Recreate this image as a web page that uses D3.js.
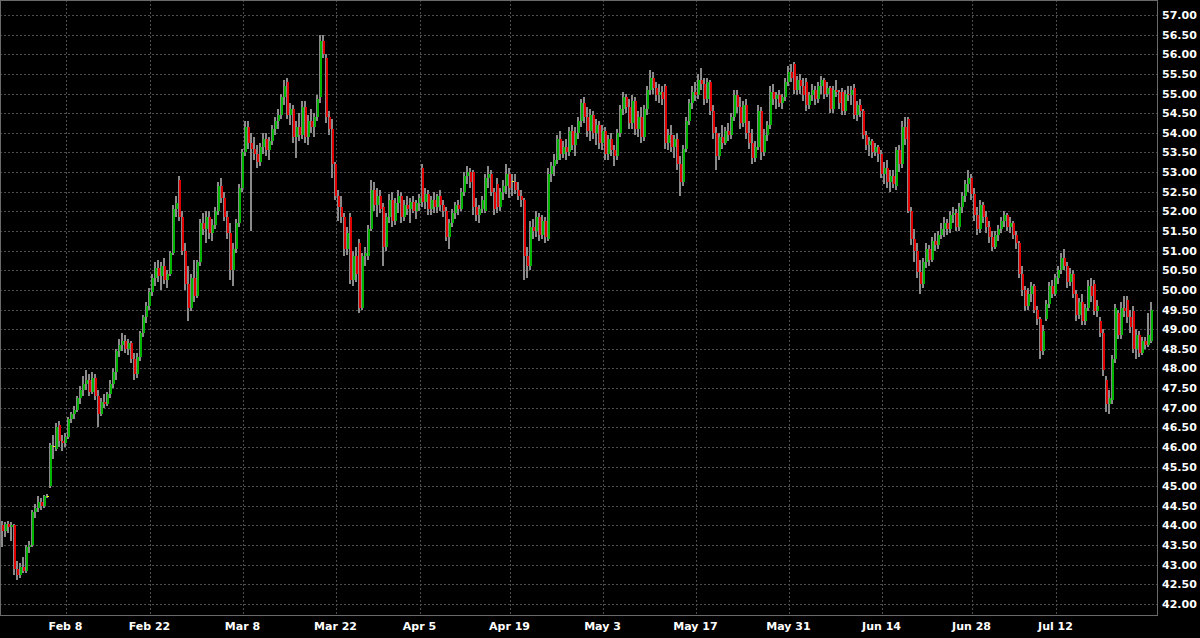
<!DOCTYPE html>
<html>
<head>
<meta charset="utf-8">
<script src="https://cdn.jsdelivr.net/npm/d3@7"></script>
<style>
html, body { margin: 0; background: #000; }
svg { display: block; }
.axis text { fill: #fff; font-family: "DejaVu Sans", Verdana, sans-serif; font-size: 11px; font-weight: bold; }
</style>
</head>
<body>
<svg id="chart" width="1200" height="638"></svg>
<script>
// bar values, 3 bars per trading day
const opens = [
    44.00,43.85,44.05,43.95,44.00,42.90,42.75,42.95,42.85,43.45,
    43.50,44.35,44.45,44.60,44.50,44.75,45.00,46.00,45.95,46.55,
    46.15,46.10,46.25,46.70,46.85,46.95,47.25,47.45,47.60,47.70,
    47.40,47.75,47.30,46.85,47.15,47.10,47.35,47.60,47.90,48.45,
    48.60,48.70,48.50,48.65,48.25,47.85,48.30,48.90,49.30,49.60,
    49.95,50.30,50.55,50.35,50.60,50.25,50.40,50.95,52.05,52.80,
    51.85,51.00,50.15,49.55,50.30,49.85,50.70,51.70,51.55,51.85,
    51.45,51.65,52.00,52.65,52.35,51.85,51.45,50.50,51.05,51.70,
    52.60,53.50,54.15,53.75,53.60,53.45,53.25,53.65,53.85,53.55,
    53.80,54.10,54.30,54.45,54.90,55.30,54.45,54.60,53.90,54.15,
    53.95,54.65,53.90,54.30,54.15,54.40,54.90,56.35,55.90,54.40,
    54.10,53.20,52.40,52.10,51.85,51.05,51.85,50.25,50.85,51.20,
    49.55,50.85,50.85,51.55,52.55,52.15,52.40,52.10,51.10,51.85,
    52.30,51.75,52.20,52.40,51.85,52.15,52.05,52.25,52.00,52.20,
    53.10,52.25,52.45,52.05,52.30,52.10,52.40,52.15,52.00,51.35,
    51.70,51.95,52.15,52.05,52.50,52.90,53.00,53.00,52.10,51.90,
    52.05,52.00,52.85,52.95,52.50,52.70,52.10,52.50,52.65,52.95,
    52.75,52.75,52.55,52.40,52.30,50.85,50.60,51.60,51.50,51.85,
    51.40,51.75,51.30,52.95,53.15,53.30,53.85,53.45,53.65,53.50,
    54.05,53.70,54.00,54.30,54.75,54.40,54.05,54.45,54.00,54.20,
    53.75,54.05,53.45,53.85,53.55,53.40,54.00,54.60,54.90,54.65,
    54.25,54.80,54.10,54.40,53.90,54.60,55.10,55.40,55.15,54.95,
    55.05,55.20,53.75,53.95,53.65,53.85,53.20,52.75,53.60,54.30,
    54.75,55.05,54.95,55.35,55.25,54.85,55.30,54.55,54.00,53.40,
    53.90,53.75,54.05,53.95,54.40,54.95,54.65,54.25,54.70,54.00,
    53.75,53.35,53.65,54.55,53.50,53.95,54.20,55.05,54.85,54.95,
    54.75,54.90,55.30,55.55,55.75,55.10,55.35,55.20,55.30,54.70,
    54.95,55.10,54.85,55.20,55.35,55.00,55.15,54.60,55.10,55.05,
    55.05,54.55,55.00,54.95,55.15,54.45,54.70,54.55,53.95,53.70,
    53.80,53.50,53.65,53.45,52.95,53.10,52.75,52.90,52.65,53.55,
    53.20,54.15,54.35,52.00,51.30,51.00,50.45,50.15,50.70,51.05,
    50.75,51.25,51.15,51.40,51.55,51.70,51.55,51.90,51.95,51.60,
    52.10,52.40,52.70,52.85,52.45,51.90,51.55,52.15,51.85,51.60,
    51.35,51.10,51.40,51.55,51.75,51.90,51.60,51.70,51.40,51.20,
    50.40,50.00,49.60,49.90,50.10,49.50,49.25,48.45,49.25,49.65,
    50.10,49.90,50.30,50.50,50.80,50.60,50.20,50.40,49.90,49.35,
    49.70,49.20,49.55,50.10,50.15,49.45,49.20,48.90,47.70,47.10,
    47.20,48.25,49.40,48.85,49.55,49.75,49.30,49.45,48.50,48.85,
    48.40,48.70,48.60,48.70
];
const highs = [
    44.12,44.10,44.12,44.08,44.05,43.10,43.05,43.20,43.50,43.60,
    44.40,44.55,44.75,44.70,44.78,44.80,46.10,46.30,46.60,46.65,
    46.30,46.35,46.75,46.90,47.05,47.30,47.55,47.80,47.95,47.85,
    47.90,47.85,47.45,47.25,47.35,47.40,47.70,48.00,48.50,48.75,
    48.90,48.85,48.75,48.70,48.40,48.40,48.95,49.35,49.70,50.05,
    50.40,50.70,50.75,50.70,50.80,50.50,51.00,52.15,52.40,52.90,
    52.00,51.20,50.60,50.40,50.75,50.75,51.80,51.95,52.00,52.00,
    51.80,52.10,52.75,52.85,52.50,52.00,51.70,51.20,51.80,52.70,
    53.60,54.30,54.30,54.00,53.90,53.70,53.75,54.00,54.00,53.90,
    54.20,54.40,54.60,55.00,55.35,55.40,54.75,54.70,54.30,54.50,
    54.80,54.80,54.45,54.60,54.50,54.95,56.50,56.50,56.00,54.55,
    54.35,53.25,52.55,52.40,51.95,51.60,51.95,51.00,51.10,51.30,
    50.95,51.10,51.65,52.80,52.75,52.60,52.55,52.20,51.95,52.45,
    52.50,52.35,52.55,52.50,52.30,52.40,52.35,52.40,52.30,52.45,
    53.20,52.60,52.55,52.40,52.50,52.45,52.55,52.30,52.10,51.80,
    52.05,52.25,52.30,52.60,53.00,53.15,53.10,53.05,52.35,52.15,
    52.40,52.95,53.15,53.05,52.60,52.85,52.60,52.80,53.20,53.10,
    52.95,52.95,52.75,52.55,52.35,51.10,51.75,51.80,52.00,51.95,
    51.90,51.85,53.10,53.25,53.45,53.95,54.05,53.80,53.85,54.15,
    54.20,54.15,54.40,54.85,54.90,54.65,54.60,54.55,54.35,54.30,
    54.20,54.15,53.95,54.00,53.70,54.10,54.70,55.05,55.00,54.85,
    54.95,54.90,54.55,54.65,54.70,55.20,55.60,55.55,55.30,55.25,
    55.20,55.25,54.10,54.20,53.95,54.00,53.40,53.70,54.40,54.85,
    55.20,55.30,55.50,55.65,55.40,55.40,55.35,54.70,54.15,54.00,
    54.20,54.15,54.25,54.50,55.10,55.10,54.90,54.80,54.85,54.30,
    54.10,53.80,54.70,54.65,54.10,54.30,55.20,55.25,55.05,55.10,
    55.00,55.40,55.70,55.75,55.80,55.45,55.50,55.40,55.40,55.05,
    55.25,55.20,55.30,55.45,55.40,55.30,55.20,55.20,55.35,55.10,
    55.15,55.10,55.20,55.20,55.25,54.80,54.85,54.60,54.05,53.90,
    53.85,53.75,53.70,53.55,53.25,53.30,53.05,53.05,53.65,53.70,
    54.30,54.40,54.40,52.10,51.55,51.20,50.75,50.80,51.20,51.15,
    51.35,51.45,51.50,51.70,51.85,51.80,52.00,52.10,52.05,52.20,
    52.50,52.80,53.05,52.95,52.60,52.10,52.30,52.25,52.00,51.75,
    51.50,51.50,51.65,51.85,52.00,51.95,51.85,51.75,51.50,51.25,
    50.60,50.10,50.05,50.20,50.15,49.60,49.30,49.10,49.75,50.20,
    50.25,50.40,50.60,50.95,51.05,50.70,50.55,50.50,50.00,49.80,
    49.90,49.65,50.25,50.30,50.25,49.75,49.30,49.00,47.80,47.45,
    48.35,49.65,49.50,49.70,49.85,49.85,49.50,49.60,49.00,48.95,
    48.80,48.80,49.40,49.70
];
const lows = [
    43.45,43.70,43.80,43.60,42.75,42.60,42.65,42.80,42.80,43.30,
    43.45,44.20,44.35,44.40,44.45,44.70,44.95,45.70,45.90,46.00,
    45.90,46.00,46.20,46.60,46.70,46.90,47.10,47.30,47.45,47.30,
    47.35,47.20,46.50,46.80,47.00,47.05,47.25,47.50,47.70,48.30,
    48.45,48.40,48.35,48.15,47.70,47.75,48.20,48.80,49.15,49.50,
    49.85,50.10,50.20,50.00,50.15,50.05,50.35,50.90,51.85,51.75,
    50.90,50.00,49.20,49.45,49.70,49.80,50.60,51.40,51.20,51.30,
    51.25,51.55,51.90,52.20,51.75,51.30,50.25,50.10,50.95,51.60,
    52.50,53.40,53.60,51.50,53.30,53.10,53.15,53.45,53.40,53.30,
    53.70,53.95,54.10,54.35,54.70,54.35,54.20,53.75,53.35,53.80,
    53.85,53.75,53.70,54.00,53.90,54.30,54.75,55.90,54.25,53.95,
    52.85,52.30,51.75,51.70,50.85,50.90,50.15,50.10,50.20,49.40,
    49.50,50.60,50.75,51.50,52.00,51.85,51.95,50.60,51.00,51.70,
    51.60,51.65,51.95,51.70,51.75,51.90,51.70,51.95,51.80,52.00,
    52.10,52.05,51.90,51.90,51.95,51.95,52.00,51.85,51.25,51.05,
    51.60,51.80,51.90,52.00,52.40,52.70,52.60,51.90,51.75,51.70,
    51.95,51.95,52.60,52.40,51.90,51.95,52.00,52.30,52.45,52.35,
    52.40,52.45,52.30,52.10,50.25,50.30,50.50,51.30,51.35,51.25,
    51.30,51.20,51.25,52.75,52.90,53.20,53.30,53.35,53.30,53.40,
    53.55,53.40,53.85,54.15,54.25,53.90,53.80,53.85,53.70,53.60,
    53.55,53.30,53.30,53.40,53.15,53.30,53.90,54.45,54.50,54.10,
    54.10,53.95,53.90,53.75,53.80,54.45,54.95,55.00,54.80,54.75,
    54.70,53.60,53.55,53.50,53.35,53.05,52.40,52.65,53.50,54.20,
    54.60,54.80,54.85,55.10,54.70,54.75,54.45,53.85,53.05,53.30,
    53.60,53.70,53.80,53.85,54.30,54.50,54.10,54.15,53.85,53.60,
    53.20,53.25,53.55,53.30,53.40,53.80,54.10,54.70,54.60,54.65,
    54.60,54.80,55.20,55.30,55.00,54.95,55.00,54.80,54.55,54.60,
    54.80,54.70,54.75,55.00,54.85,54.90,54.50,54.50,54.90,54.60,
    54.45,54.45,54.80,54.70,54.35,54.30,54.40,53.85,53.55,53.40,
    53.35,53.40,53.25,52.85,52.70,52.60,52.50,52.60,52.55,53.00,
    53.10,53.70,51.95,51.15,50.70,50.30,49.90,50.05,50.55,50.60,
    50.70,51.00,51.05,51.30,51.35,51.40,51.45,51.70,51.50,51.50,
    51.95,52.25,52.50,52.30,51.75,51.40,51.45,51.70,51.45,51.20,
    51.00,51.05,51.25,51.45,51.60,51.50,51.45,51.30,51.05,50.30,
    49.85,49.45,49.50,49.70,49.40,49.10,48.25,48.35,49.20,49.55,
    49.80,49.85,50.15,50.40,50.50,50.05,50.10,49.80,49.20,49.25,
    49.10,49.10,49.45,49.70,49.35,49.30,48.80,47.80,46.90,46.85,
    47.10,48.15,48.75,48.75,49.30,49.15,48.90,48.40,48.25,48.30,
    48.35,48.50,48.55,48.65
];
const closes = [
    43.85,44.05,43.95,44.02,42.90,42.75,42.95,42.85,43.45,43.50,
    44.35,44.45,44.60,44.50,44.75,44.75,46.05,46.00,46.50,46.15,
    46.10,46.25,46.70,46.85,46.95,47.25,47.45,47.60,47.70,47.40,
    47.75,47.30,46.85,47.15,47.10,47.35,47.60,47.90,48.45,48.60,
    48.70,48.50,48.65,48.25,47.85,48.30,48.90,49.30,49.60,49.95,
    50.30,50.55,50.35,50.60,50.25,50.40,50.95,52.05,52.20,51.85,
    51.00,50.15,49.55,50.30,49.85,50.70,51.70,51.55,51.85,51.45,
    51.65,52.00,52.65,52.35,51.85,51.45,50.50,51.05,51.70,52.60,
    53.50,54.15,53.75,53.60,53.45,53.25,53.65,53.85,53.55,53.80,
    54.10,54.30,54.45,54.90,55.20,54.45,54.60,53.90,54.15,53.95,
    54.65,53.90,54.30,54.15,54.40,54.85,56.35,56.00,54.40,54.10,
    53.20,52.40,52.10,51.85,51.05,51.45,50.25,50.85,50.40,49.55,
    50.85,50.95,51.55,52.55,52.15,52.40,52.05,51.10,51.85,52.30,
    51.75,52.20,52.40,51.85,52.15,52.05,52.25,52.00,52.20,52.35,
    52.25,52.45,52.05,52.30,52.10,52.40,52.15,52.00,51.35,51.70,
    51.95,52.15,52.05,52.50,52.90,53.00,52.75,52.10,51.90,52.05,
    52.30,52.85,52.95,52.50,52.05,52.10,52.50,52.65,52.95,52.60,
    52.75,52.55,52.40,52.30,50.85,50.60,51.60,51.50,51.85,51.40,
    51.75,51.35,52.95,53.15,53.30,53.85,53.45,53.65,53.50,54.05,
    53.70,54.00,54.30,54.75,54.40,54.05,54.45,54.00,54.20,53.75,
    54.05,53.45,53.85,53.55,53.40,54.00,54.60,54.90,54.65,54.25,
    54.80,54.10,54.40,53.90,54.60,55.10,55.40,55.15,54.95,55.05,
    54.85,53.75,53.95,53.65,53.85,53.20,52.75,53.60,54.30,54.75,
    55.05,54.95,55.35,55.25,54.85,55.30,54.55,54.00,53.40,53.90,
    53.75,54.05,53.95,54.40,54.95,54.65,54.25,54.70,54.00,53.75,
    53.35,53.65,54.55,53.50,53.95,54.20,55.05,54.85,54.95,54.75,
    54.90,55.30,55.55,55.40,55.10,55.35,55.20,54.95,54.70,54.95,
    55.10,54.85,55.20,55.35,55.00,55.15,54.60,55.10,55.05,54.75,
    54.55,55.00,54.95,55.10,54.45,54.70,54.55,53.95,53.70,53.80,
    53.50,53.65,53.45,52.95,53.10,52.75,52.90,52.70,53.55,53.20,
    54.15,53.85,52.00,51.30,51.00,50.45,50.15,50.70,51.05,50.75,
    51.25,51.15,51.40,51.55,51.70,51.55,51.90,51.95,51.60,52.10,
    52.40,52.70,52.85,52.45,51.90,51.55,52.15,51.85,51.60,51.35,
    51.10,51.40,51.55,51.75,51.90,51.60,51.70,51.40,51.20,50.40,
    50.00,49.60,49.90,50.10,49.50,49.25,48.45,48.95,49.65,50.10,
    49.90,50.30,50.50,50.80,50.60,50.20,50.40,49.90,49.35,49.70,
    49.20,49.55,50.10,49.85,49.45,49.60,48.90,47.95,47.10,47.25,
    48.25,49.55,48.85,49.55,49.45,49.30,49.05,48.50,48.85,48.40,
    48.70,48.60,48.85,49.50
];

// date labels and the bar each one falls on
const tickLabels = ['Feb 8', 'Feb 22', 'Mar 8', 'Mar 22', 'Apr 5', 'Apr 19', 'May 3', 'May 17', 'May 31', 'Jun 14', 'Jun 28', 'Jul 12'];
const tickBars = [21, 49, 80, 111, 139, 169, 200, 231, 262, 293, 323, 351];
const priceTicks = [42, 42.5, 43, 43.5, 44, 44.5, 45, 45.5, 46, 46.5, 47, 47.5, 48, 48.5, 49, 49.5,
    50, 50.5, 51, 51.5, 52, 52.5, 53, 53.5, 54, 54.5, 55, 55.5, 56, 56.5, 57];

const plotW = 1157;
const plotH = 615;

const svg = d3.select('#chart');

const x = d3.scaleBand()
    .domain(d3.range(closes.length))
    .range([1, 1153]);
const y = d3.scaleLinear()
    .domain([42, 57])
    .range([604, 15]);

svg.append('rect')
    .attr('width', 1200)
    .attr('height', 638)
    .attr('fill', '#000');

// grid
const grid = svg.append('g')
    .attr('stroke', '#4d4d4d')
    .attr('stroke-dasharray', '2,2')
    .attr('shape-rendering', 'crispEdges');
grid.selectAll('.hgrid')
    .data(priceTicks)
    .enter()
    .append('line')
    .attr('x1', 0)
    .attr('x2', plotW)
    .attr('y1', d => Math.round(y(d)) + 0.5)
    .attr('y2', d => Math.round(y(d)) + 0.5);
grid.selectAll('.vgrid')
    .data(tickBars)
    .enter()
    .append('line')
    .attr('x1', d => Math.round(x(d) + x.bandwidth() / 2) + 0.5)
    .attr('x2', d => Math.round(x(d) + x.bandwidth() / 2) + 0.5)
    .attr('y1', 0)
    .attr('y2', plotH);

// candles: grey high-low wick, coloured open-close body beside it
const idx = d3.range(closes.length);
const candles = svg.append('g')
    .attr('shape-rendering', 'crispEdges');
const bx = i => Math.round(x(i));

candles.selectAll('.wick')
    .data(idx)
    .enter()
    .append('rect')
    .attr('x', i => bx(i))
    .attr('y', i => y(highs[i]))
    .attr('width', 2)
    .attr('height', i => y(lows[i]) - y(highs[i]))
    .attr('fill', '#8a8a8a');

candles.selectAll('.body')
    .data(idx)
    .enter()
    .append('rect')
    .attr('x', i => bx(i) + 1)
    .attr('y', i => opens[i] === closes[i] ? y(opens[i]) - 0.5 : y(Math.max(opens[i], closes[i])))
    .attr('width', 2)
    .attr('height', i => Math.max(1, Math.abs(y(opens[i]) - y(closes[i]))))
    .attr('fill', i => {
        if (opens[i] === closes[i]) return '#ffff00';
        return closes[i] > opens[i] ? '#00b400' : '#e00000';
    });

// frame
svg.append('rect')
    .attr('x', 0.5)
    .attr('y', 0.5)
    .attr('width', plotW)
    .attr('height', plotH)
    .attr('fill', 'none')
    .attr('stroke', '#6a6a6a')
    .attr('shape-rendering', 'crispEdges');

// axes
const yAxis = svg.append('g')
    .attr('class', 'axis')
    .attr('transform', `translate(${plotW},0)`)
    .call(d3.axisRight(y)
        .tickValues(priceTicks)
        .tickFormat(d3.format('.2f'))
        .tickSize(0)
        .tickPadding(5));
yAxis.select('.domain').remove();

const xAxis = svg.append('g')
    .attr('class', 'axis')
    .attr('transform', `translate(0,${plotH})`)
    .call(d3.axisBottom(x)
        .tickValues(tickBars)
        .tickFormat(d => tickLabels[tickBars.indexOf(d)])
        .tickSize(0)
        .tickPadding(7));
xAxis.select('.domain').remove();
</script>
</body>
</html>
